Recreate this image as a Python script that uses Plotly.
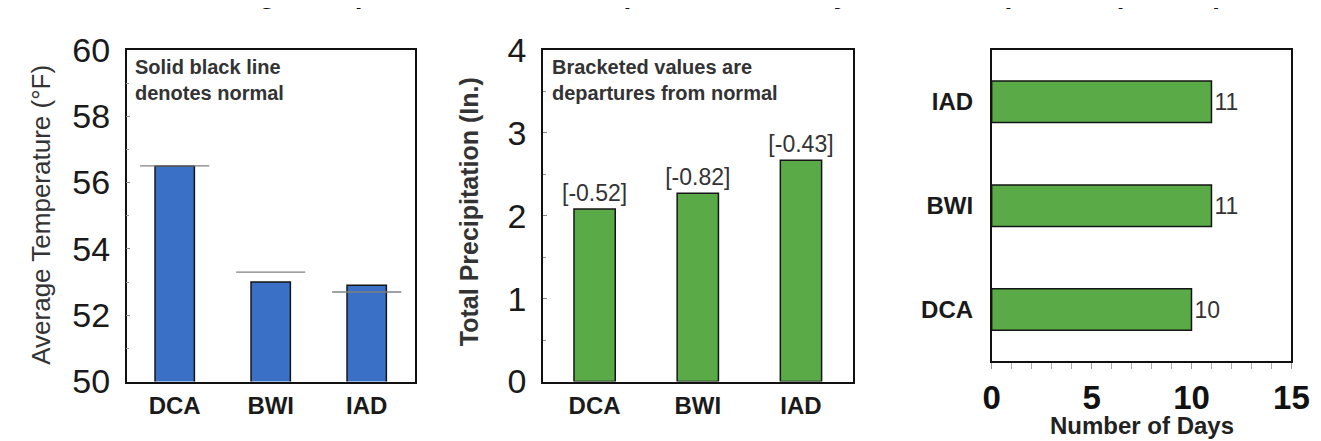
import plotly.graph_objects as go

# ---------------- data ----------------
stations = ["DCA", "BWI", "IAD"]
avg_temp = [56.5, 53.0, 52.9]
normal_temp = [56.5, 53.3, 52.7]
total_precip = [2.08, 2.27, 2.67]
precip_departure = ["[-0.52]", "[-0.82]", "[-0.43]"]
days_stations = ["DCA", "BWI", "IAD"]
days_precip = [10, 11, 11]

temp_ticks = [50, 52, 54, 56, 58, 60]
precip_ticks = [0, 1, 2, 3, 4]
days_ticks = [0, 5, 10, 15]

BLUE = "#3a70c6"
GREEN = "#5aab48"
EDGE = "#151515"
FONT = "Liberation Sans, Arial, sans-serif"
W, H = 1321, 441

def px_x(p):
    return p / W

def px_y(p):
    return 1 - p / H

idx = list(range(len(stations)))
half = 0.36

fig = go.Figure()

# Panel 1: average temperature
fig.add_trace(go.Bar(
    x=idx, y=avg_temp, width=0.41, xaxis="x", yaxis="y",
    marker=dict(color=BLUE, line=dict(color=EDGE, width=1.5)),
    showlegend=False, hoverinfo="y",
))
nx, ny = [], []
for i, n in zip(idx, normal_temp):
    nx += [i - half, i + half, None]
    ny += [n, n, None]
fig.add_trace(go.Scatter(
    x=nx, y=ny, mode="lines", xaxis="x", yaxis="y",
    line=dict(color="#808080", width=1.3), showlegend=False, hoverinfo="skip",
))

# Panel 2: total precipitation
fig.add_trace(go.Bar(
    x=idx, y=total_precip, width=0.4, xaxis="x2", yaxis="y2",
    marker=dict(color=GREEN, line=dict(color=EDGE, width=1.5)),
    text=precip_departure, textposition="outside", constraintext="none",
    textfont=dict(family=FONT, size=23, color="#333333"), cliponaxis=False,
    showlegend=False, hoverinfo="y",
))

# Panel 3: number of days
didx = list(range(len(days_stations)))
fig.add_trace(go.Bar(
    y=didx, x=days_precip, width=0.4, orientation="h", xaxis="x3", yaxis="y3",
    marker=dict(color=GREEN, line=dict(color=EDGE, width=1.5)),
    text=[str(v) for v in days_precip], textposition="outside", constraintext="none",
    textfont=dict(family=FONT, size=23, color="#333333"), cliponaxis=False,
    showlegend=False, hoverinfo="x",
))

frame = dict(showline=True, linecolor="#111111", linewidth=1.5, mirror=True,
             showgrid=False, zeroline=False)
big_tick = dict(family=FONT, size=34, color="#1a1a1a")
cat_tick = dict(family=FONT, size=24, color="#1a1a1a", weight="bold")

fig.update_layout(
    width=W, height=H,
    margin=dict(l=0, r=0, t=0, b=0),
    paper_bgcolor="white", plot_bgcolor="white",
    font=dict(family=FONT, color="#222222"),
    xaxis=dict(domain=[px_x(112), px_x(406)], anchor="y", range=[-0.5, 2.5],
               tickvals=idx, ticktext=stations, tickfont=cat_tick, ticks="",
               ticklabelstandoff=2, **frame),
    yaxis=dict(domain=[px_y(388), px_y(25)], anchor="x", range=[50, 60],
               tickvals=temp_ticks, tickfont=big_tick, ticks="inside", ticklen=4,
               tickcolor="#888888", ticklabelstandoff=8,
               minor=dict(dtick=1, ticks="inside", ticklen=3, tickcolor="#999999"),
               **frame),
    xaxis2=dict(domain=[px_x(537), px_x(853)], anchor="y2", range=[-0.5, 2.5],
                tickvals=idx, ticktext=stations, tickfont=cat_tick, ticks="",
                ticklabelstandoff=2, **frame),
    yaxis2=dict(domain=[px_y(388), px_y(25)], anchor="x2", range=[0, 4],
                tickvals=precip_ticks, tickfont=big_tick, ticks="inside", ticklen=4,
                tickcolor="#888888", ticklabelstandoff=8,
                minor=dict(dtick=0.5, ticks="inside", ticklen=3, tickcolor="#999999"),
                **frame),
    xaxis3=dict(domain=[px_x(995), px_x(1301)], anchor="y3", range=[0, 15],
                tickvals=days_ticks,
                tickfont=dict(family=FONT, size=33, color="#111111", weight="bold"),
                ticks="outside", ticklen=6, tickcolor="#999999",
                minor=dict(dtick=1, ticks="outside", ticklen=6, tickcolor="#aaaaaa"),
                **frame),
    yaxis3=dict(domain=[px_y(366), px_y(25)], anchor="x3", range=[-0.5, 2.5],
                tickvals=didx, ticktext=days_stations, tickfont=cat_tick, ticks="",
                ticklabelstandoff=12, **frame),
)

annotations = [
    # title, cut off at the top edge as in the original
    dict(text='Average Temperature, Total Precipitation, and Days with Precipitation (≥ 0.01")',
         x=px_x(700), y=px_y(7), xref="paper", yref="paper", xanchor="center", yanchor="bottom",
         yshift=22, showarrow=False,
         font=dict(family=FONT, size=28, color="#111111", weight="bold")),
    dict(text="Solid black line<br>denotes normal", x=px_x(118), y=px_y(29),
         xref="paper", yref="paper", xanchor="left", yanchor="top", align="left",
         showarrow=False, font=dict(family=FONT, size=20, color="#333333", weight="bold")),
    dict(text="Bracketed values are<br>departures from normal", x=px_x(544), y=px_y(29),
         xref="paper", yref="paper", xanchor="left", yanchor="top", align="left",
         showarrow=False, font=dict(family=FONT, size=20, color="#333333", weight="bold")),
    dict(text="Average Temperature (°F)", x=px_x(25), y=px_y(205), xref="paper", yref="paper",
         textangle=-90, showarrow=False, xanchor="center", yanchor="middle",
         font=dict(family=FONT, size=26, color="#333333")),
    dict(text="Total Precipitation (In.)", x=px_x(461), y=px_y(202), xref="paper", yref="paper",
         textangle=-90, showarrow=False, xanchor="center", yanchor="middle",
         font=dict(family=FONT, size=25, color="#333333", weight="bold")),
    dict(text="Number of Days", x=px_x(1148), y=px_y(436), xref="paper", yref="paper",
         showarrow=False, xanchor="center", yanchor="middle",
         font=dict(family=FONT, size=24, color="#222222", weight="bold")),
]
fig.update_layout(annotations=annotations)

fig.write_html("out.html")
